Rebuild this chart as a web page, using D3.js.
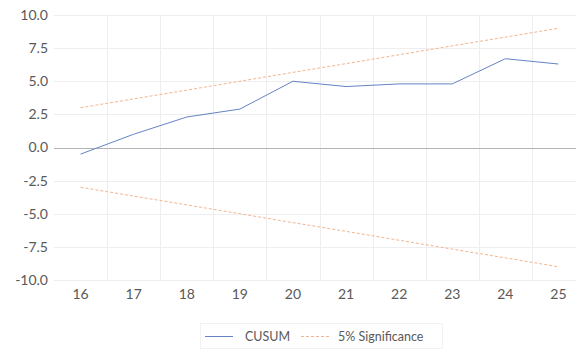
<!DOCTYPE html>
<html>
<head>
<meta charset="utf-8">
<script src="https://cdn.jsdelivr.net/npm/d3@7"></script>
<style>
html,body{margin:0;padding:0;background:#fff;overflow:hidden;}
svg{display:block;}
</style>
</head>
<body>
<svg id="chart" width="576" height="351"></svg>
<script>
const categories = ["16","17","18","19","20","21","22","23","24","25"];
const cusum = [-0.5, 1.0, 2.3, 2.9, 5.0, 4.6, 4.8, 4.8, 6.7, 6.3];
const upper5 = [3.0, 3.67, 4.33, 5.0, 5.67, 6.33, 7.0, 7.67, 8.33, 9.0];
const lower5 = [-3.0, -3.67, -4.33, -5.0, -5.67, -6.33, -7.0, -7.67, -8.33, -9.0];
const yTicks = [-10, -7.5, -5, -2.5, 0, 2.5, 5, 7.5, 10];

(function () {
const svg = d3.select("#chart");
const plotLeft = 54, bandW = 53.1, plotTop = 15, plotBottom = 280;
const x = d3.scaleBand().domain(categories).range([plotLeft, plotLeft + bandW * categories.length]).padding(0);
const y = d3.scaleLinear().domain([-10, 10]).range([plotBottom, plotTop]);
const cx = c => x(c) + x.bandwidth() / 2;

const font = "Lato, 'Open Sans', sans-serif";
const sigColor = "#f3b58e";

// horizontal gridlines
svg.append("g").selectAll("line").data(yTicks.filter(d => d !== 0)).join("line")
  .attr("x1", plotLeft).attr("x2", 576)
  .attr("y1", d => Math.round(y(d)) + 0.5).attr("y2", d => Math.round(y(d)) + 0.5)
  .attr("stroke", "#eeeeee").attr("stroke-width", 1);

// vertical gridlines at category boundaries
svg.append("g").selectAll("line").data(categories.slice(1)).join("line")
  .attr("x1", d => Math.round(x(d)) + 0.5).attr("x2", d => Math.round(x(d)) + 0.5)
  .attr("y1", plotTop).attr("y2", plotBottom)
  .attr("stroke", "#eeeeee").attr("stroke-width", 1);

// zero axis line
svg.append("line")
  .attr("x1", plotLeft).attr("x2", 576)
  .attr("y1", Math.round(y(0)) + 0.5).attr("y2", Math.round(y(0)) + 0.5)
  .attr("stroke", "#b4b4b4").attr("stroke-width", 1);

// y axis labels
const yAxis = d3.axisLeft(y).tickValues(yTicks).tickFormat(d => d.toFixed(1)).tickSize(0).tickPadding(0);
const gy = svg.append("g").attr("transform", `translate(${plotLeft - 6},0)`).call(yAxis);
gy.select(".domain").remove();
gy.selectAll("text").attr("font-family", font).attr("font-size", 14).attr("fill", "#595959");

// x axis labels
const xAxis = d3.axisBottom(x).tickSize(0).tickPadding(0);
const gx = svg.append("g").attr("transform", `translate(0,${plotBottom + 9})`).call(xAxis);
gx.select(".domain").remove();
gx.selectAll("text").attr("font-family", font).attr("font-size", 14).attr("fill", "#595959");

const line = d3.line().x((d, i) => cx(categories[i])).y(d => y(d));

svg.append("path").datum(upper5).attr("d", line)
  .attr("fill", "none").attr("stroke", sigColor).attr("stroke-width", 1)
  .attr("stroke-dasharray", "3,2");
svg.append("path").datum(lower5).attr("d", line)
  .attr("fill", "none").attr("stroke", sigColor).attr("stroke-width", 1)
  .attr("stroke-dasharray", "3,2");
svg.append("path").datum(cusum).attr("d", line)
  .attr("fill", "none").attr("stroke", "#6584c4").attr("stroke-width", 1);

// legend
const lg = svg.append("g");
lg.append("rect").attr("x", 200.5).attr("y", 323.5).attr("width", 242).attr("height", 25)
  .attr("fill", "none").attr("stroke", "#f2f2f2");
lg.append("line").attr("x1", 205).attr("x2", 233).attr("y1", 336.5).attr("y2", 336.5)
  .attr("stroke", "#6584c4").attr("stroke-width", 1);
lg.append("text").attr("x", 245).attr("y", 340.5).text("CUSUM")
  .attr("font-family", font).attr("font-size", 12.5).attr("fill", "#595959");
lg.append("line").attr("x1", 301).attr("x2", 330).attr("y1", 336.5).attr("y2", 336.5)
  .attr("stroke", sigColor).attr("stroke-width", 1).attr("stroke-dasharray", "3,2");
lg.append("text").attr("x", 338).attr("y", 340.5).text("5% Significance")
  .attr("font-family", font).attr("font-size", 12.5).attr("fill", "#595959");
})();
</script>
</body>
</html>
